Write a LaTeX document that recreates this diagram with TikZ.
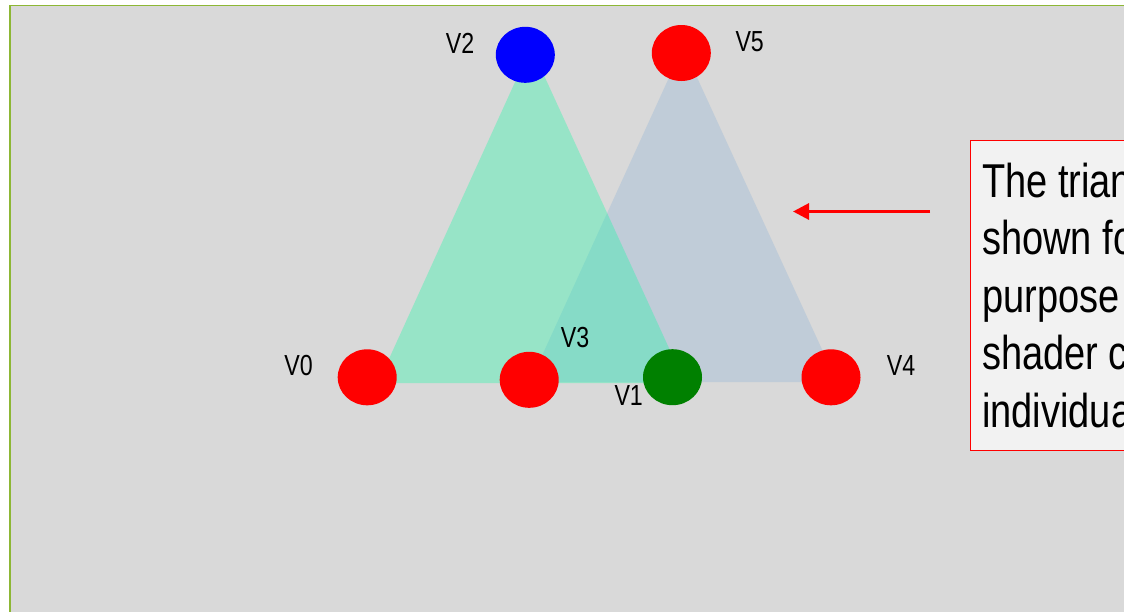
\documentclass[tikz,border=0pt]{standalone}
\usepackage{fontspec}
\setmainfont{Liberation Sans}
\newfontfamily\narrowfont[FakeStretch=0.8]{Liberation Sans}
\usetikzlibrary{arrows.meta}
\definecolor{bgray}{HTML}{D9D9D9}
\definecolor{frameg}{HTML}{8DB735}
\definecolor{trigray}{HTML}{C0CCD8}
\definecolor{trigreen}{RGB}{0,255,160}
\definecolor{boxfill}{HTML}{F2F2F2}
\definecolor{vgreen}{HTML}{008000}
\tikzset{
  vert/.style={ellipse, minimum width=59pt, minimum height=56pt, inner sep=0pt, draw=none},
  vlabel/.style={anchor=base, inner sep=0pt, font=\narrowfont\fontsize{29}{34}\selectfont},
  note/.style={anchor=base west, inner sep=0pt, align=left, font=\narrowfont\fontsize{47.5}{57.5}\selectfont},
  pointer/.style={draw=red, line width=3pt, -{Triangle[length=16pt,width=16pt]}}
}
\usetikzlibrary{shapes.geometric}
\begin{document}
\begin{tikzpicture}[x=1pt,y=-1pt]
\clip (0,0) rectangle (1124,611);
\fill[white] (0,0) rectangle (1124,611);
\draw[fill=bgray, draw=frameg, line width=1.6pt] (10.2,5.5) rectangle (1140,630);
% triangles
\fill[trigray] (530,382) -- (837,382) -- (683,47) -- cycle;
\fill[trigreen, fill opacity=0.3] (378,383) -- (685,383) -- (531,47) -- cycle;
% vertices
\node[vert, fill=red]   (v0) at (367.2,377.3) {};
\node[vert, fill=vgreen] (v1) at (672.5,377.2) {};
\node[vert, fill=blue]  (v2) at (525.3,54.8) {};
\node[vert, fill=red]   (v3) at (529.2,379.8) {};
\node[vert, fill=red]   (v4) at (831,377.3) {};
\node[vert, fill=red]   (v5) at (681.3,53) {};
% labels
\node[vlabel] (l0) at (298.5,375) {V0};
\node[vlabel] (l1) at (628.7,405) {V1};
\node[vlabel] (l2) at (460,53.3) {V2};
\node[vlabel] (l3) at (575,347.3) {V3};
\node[vlabel] (l4) at (901,375) {V4};
\node[vlabel] (l5) at (749.7,51.7) {V5};
% note box
\draw[fill=boxfill, draw=red, line width=1.5pt] (970.7,140.7) rectangle (1140,450.7);
\node[note] (txt) at (982,427) {The trian\\shown fo\\purpose\\shader c\\individua};
% arrow
\coordinate (arrS) at (930,211.5);
\coordinate (arrE) at (793,211.5);
\draw[pointer] (arrS) -- (arrE);
\end{tikzpicture}
\end{document}
